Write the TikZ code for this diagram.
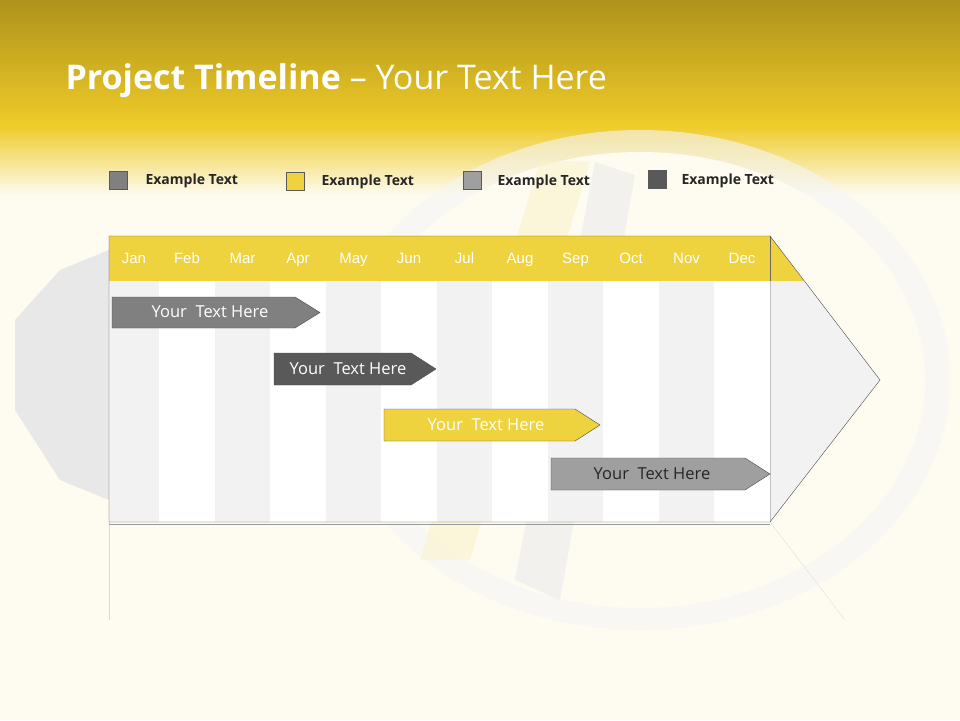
\documentclass[tikz,border=0pt]{standalone}
\usepackage{fontspec}
\setmainfont{Open Sans}
\newfontfamily\arialf{Liberation Sans}
\definecolor{cream}{HTML}{FEFBF0}
\definecolor{gold}{HTML}{EECB28}
\definecolor{dgold}{HTML}{AE921B}
\definecolor{ylw}{HTML}{EFD33E}
\definecolor{lg}{HTML}{F2F2F2}
\tikzset{x=1pt,y=-1pt,
 leg/.style={draw=gray!70!black,minimum size=18pt,inner sep=0pt},
 legt/.style={anchor=west,font=\fontsize{14}{14}\selectfont\bfseries,text=black!85},
 mon/.style={font=\arialf\fontsize{15}{15}\selectfont,text=white,inner sep=0pt,text height=11pt,text depth=3pt},
 bartxt/.style={font=\fontsize{16.5}{17}\selectfont,text=white,inner sep=0pt},
 barln/.style={draw=gray!60!black}}
\newcommand\tlbar[5]{% x1,x2,ytop,ybot,colour
 \filldraw[barln,fill=#5] (#1,#3) -- ({#2-25},#3) -- (#2,{(#3+#4)/2}) -- ({#2-25},#4) -- (#1,#4) -- cycle;}
\begin{document}
\begin{tikzpicture}
\useasboundingbox (0,0) rectangle (960,720);
\fill[cream] (0,0) rectangle (960,720);
\shade[top color=dgold,bottom color=gold] (0,0) rectangle (960,125);
\shade[top color=gold,bottom color=cream] (0,125) rectangle (960,195);
% faint bulb
\fill[black!4,opacity=.6] (640,380) ellipse (310 and 250);
\fill[cream] (640,380) ellipse (285 and 228);
\fill[ylw!30,opacity=.5] (540,160) -- (590,162) -- (470,560) -- (420,560) -- cycle;
\fill[black!8,opacity=.6] (595,162) -- (635,175) -- (560,600) -- (515,580) -- cycle;
\fill[black!9] (15,320) -- (60,270) -- (109,250) -- (109,500) -- (60,480) -- (15,410) -- cycle;
\node[anchor=west,text=white,font=\fontsize{34}{34}\selectfont] (title) at (62,81) {\textbf{Project Timeline} -- Your Text Here};
% legend
\node[leg,fill=gray] (l1) at (118,180) {}; \node[legt] (t1) at (142,181) {Example Text};
\node[leg,fill=ylw] (l2) at (295,181) {}; \node[legt] (t2) at (318,182) {Example Text};
\node[leg,fill=gray!75] (l3) at (472,180) {}; \node[legt] (t3) at (494,182) {Example Text};
\node[leg,fill=black!65] (l4) at (657,179) {}; \node[legt] (t4) at (678,181) {Example Text};
% reflection
\draw[black!15] (109,522) -- (109,620);
\draw[black!12] (770,522) -- (845,620);
% arrow body
\fill[lg] (770,236) -- (880,380) -- (770,522) -- cycle;
\fill[ylw] (770,236) -- (804,281) -- (770,281) -- cycle;
\foreach \a/\b/\m [count=\i] in {109/159/Jan,159/215/Feb,215/270/Mar,270/326/Apr,326/381/May,381/437/Jun,437/492/Jul,492/548/Aug,548/603/Sep,603/659/Oct,659/714/Nov,714/770/Dec}{
 \pgfmathparse{mod(\i,2)==1?"lg":"white"}\edef\cc{\pgfmathresult}
 \fill[\cc] (\a,281) rectangle (\b,522);
 \fill[ylw] (\a,236) rectangle (\b,281);
 \draw[black!25] (\b,281) -- (\b,522);
 \draw[black!60] (\b,236) -- (\b,281);
 \node[mon] (m\i) at ({(\a+\b)/2},259) {\m};
}
\draw[black!70] (109,522) -- (109,236) -- (770,236) -- (880,380) -- (770,522) -- cycle;
\draw[black!40] (109,524) -- (770,524);
% bars
\tlbar{112}{320}{297}{328}{gray}
\node[bartxt] (b1) at (210,312) {Your\ \ Text Here};
\tlbar{274}{436}{353}{385}{black!65}
\node[bartxt] (b2) at (348,369) {Your\ \ Text Here};
\tlbar{384}{600}{409}{441}{ylw}
\node[bartxt] (b3) at (486,425) {Your\ \ Text Here};
\tlbar{551}{770}{458}{490}{gray!75}
\node[bartxt,text=black!85] (b4) at (652,474) {Your\ \ Text Here};
\end{tikzpicture}
\end{document}
